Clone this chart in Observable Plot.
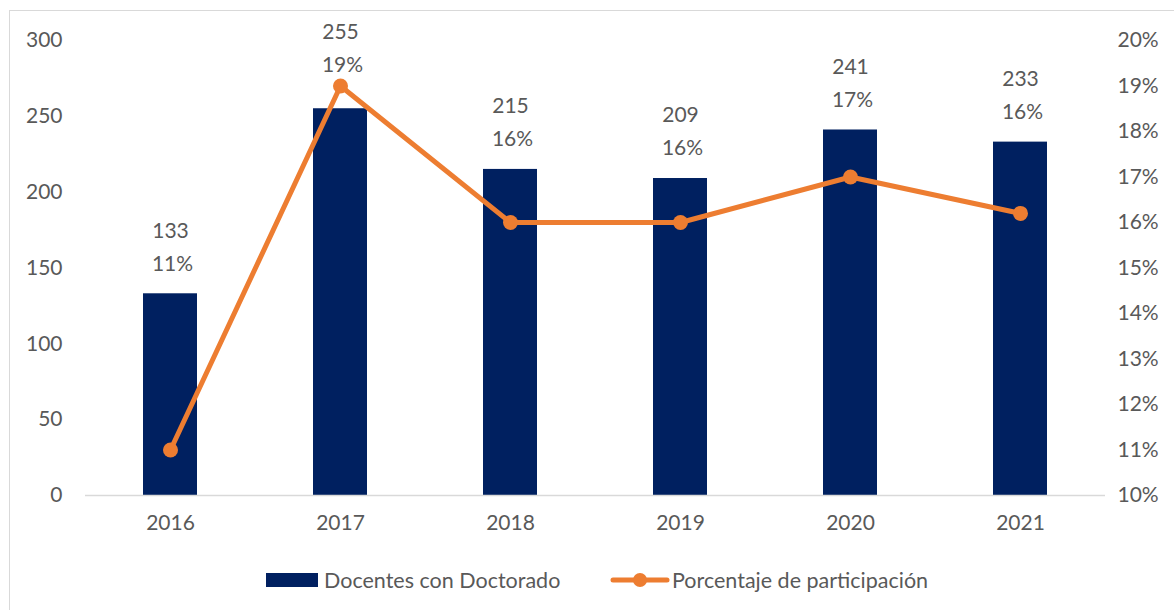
<!DOCTYPE html>
<html>
<head>
<meta charset="utf-8">
<script src="https://cdn.jsdelivr.net/npm/d3@7"></script>
<script src="https://cdn.jsdelivr.net/npm/@observablehq/plot@0.6"></script>
<style>
  body { margin: 0; background: #fff; font-family: Lato, "Open Sans", sans-serif; }
  #frame { position: absolute; left: 9px; top: 10px; width: 1170px; height: 610px; border: 1px solid #d9d9d9; box-sizing: border-box; }
  #chart { position: absolute; left: 0; top: 0; }
  #legend { position: absolute; left: 0; top: 566px; width: 1174px; height: 28px; font-size: 21.5px; color: #595959; }
  .item { position: absolute; display: flex; align-items: center; height: 28px; white-space: nowrap; }
</style>
</head>
<body>
<div id="frame"></div>
<div id="chart"></div>
<div id="legend">
  <div class="item" style="left:266px"><span style="display:inline-block;width:52px;height:14px;background:#002060;margin-right:6px"></span>Docentes con Doctorado</div>
  <div class="item" style="left:610px"><svg width="60" height="18" style="margin-right:2px"><line x1="3" y1="9" x2="57" y2="9" stroke="#ED7D31" stroke-width="5" stroke-linecap="round"/><circle cx="30" cy="9" r="7" fill="#ED7D31"/></svg>Porcentaje de participación</div>
</div>
<script>
const years = ["2016", "2017", "2018", "2019", "2020", "2021"];
const docentes = [133, 255, 215, 209, 241, 233];
const porcentaje = [11, 19, 16, 16, 17, 16.2];
const pctLabels = ["11%", "19%", "16%", "16%", "17%", "16%"];
const leftTicks = [0, 50, 100, 150, 200, 250, 300];
const rightTicks = [10, 11, 12, 13, 14, 15, 16, 17, 18, 19, 20];

const pctMin = 10, pctMax = 20, yMax = 300;
const toLeft = p => (p - pctMin) / (pctMax - pctMin) * yMax;

const data = years.map((y, i) => ({
  year: y, n: docentes[i], pct: porcentaje[i], pctLabel: pctLabels[i], py: toLeft(porcentaje[i])
}));

const navy = "#002060", orange = "#ED7D31", gray = "#595959";
const fs = 21;
// labels sit above the bar, or above the line point when it is higher
const labelAnchor = d => Math.max(d.n, d.py - 6);

const chart = Plot.plot({
  width: 1174,
  height: 550,
  marginTop: 40,
  marginBottom: 55,
  marginLeft: 85,
  marginRight: 69,
  style: { fontFamily: "Lato, 'Open Sans', sans-serif", fontSize: fs + "px", color: gray, background: "transparent" },
  x: { domain: years, paddingInner: 0.68, paddingOuter: 0.34, label: null },
  y: { domain: [0, yMax], label: null },
  marks: [
    Plot.barY(data, { x: "year", y: "n", fill: navy }),
    Plot.ruleY([0], { stroke: "#d9d9d9", strokeWidth: 1.5 }),
    Plot.axisX({ tickSize: 0, tickPadding: 20, fontSize: fs, fill: gray, label: null }),
    Plot.axisY(leftTicks, { anchor: "left", tickSize: 0, tickPadding: 23, fontSize: fs, fill: gray, label: null }),
    Plot.axisY(rightTicks.map(toLeft), { anchor: "right", tickSize: 0, tickPadding: 12, fontSize: fs, fill: gray, label: null,
      tickFormat: v => Math.round(v / yMax * (pctMax - pctMin) + pctMin) + "%" }),
    Plot.line(data, { x: "year", y: "py", stroke: orange, strokeWidth: 5 }),
    Plot.dot(data, { x: "year", y: "py", fill: orange, r: 7.5 }),
    Plot.text(data, { x: "year", y: labelAnchor, text: d => String(d.n), dy: -63, fontSize: fs, fill: gray }),
    Plot.text(data, { x: "year", y: labelAnchor, text: "pctLabel", dy: -30, dx: 2, fontSize: fs, fill: gray })
  ]
});
document.getElementById("chart").appendChild(chart);
</script>
</body>
</html>
